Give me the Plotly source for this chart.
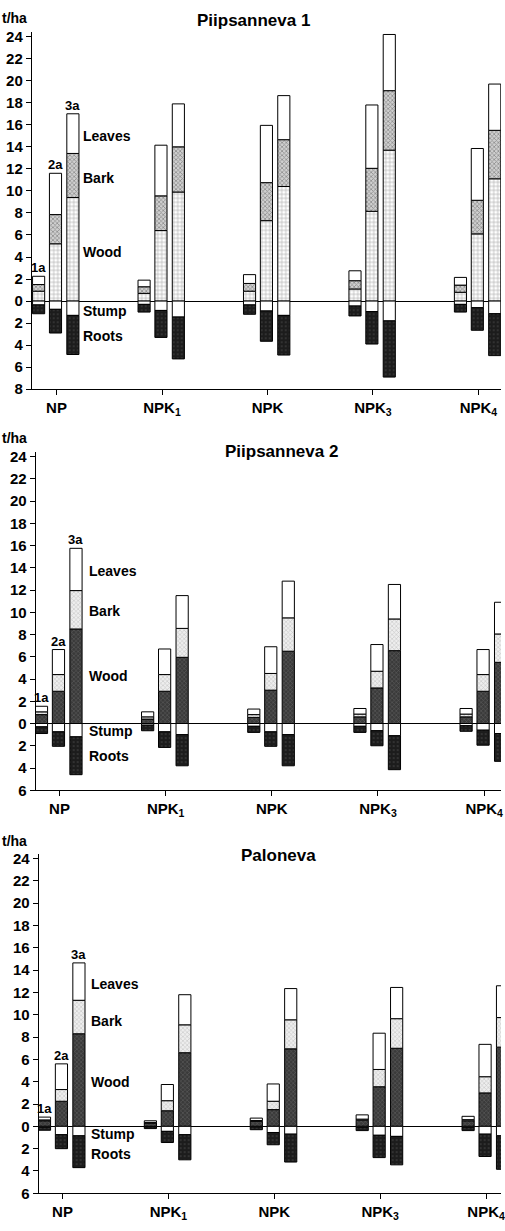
import plotly.graph_objects as go

# ---------------- data (t/ha) ----------------
TREATMENTS = ["NP", "NPK<sub>1</sub>", "NPK", "NPK<sub>3</sub>", "NPK<sub>4</sub>"]
AGES = ["1a", "2a", "3a"]
PANEL_TITLES = ["Piipsanneva 1", "Piipsanneva 2", "Paloneva"]

# rows: age 1a, 2a, 3a ; columns: NP, NPK1, NPK, NPK3, NPK4
P1_WOOD = [[0.9, 0.7, 0.9, 1.1, 0.8], [5.2, 6.4, 7.3, 8.15, 6.1], [9.4, 9.9, 10.4, 13.7, 11.1]]
P1_BARK = [[0.6, 0.6, 0.7, 0.75, 0.65], [2.65, 3.15, 3.45, 3.9, 3.05], [4.0, 4.1, 4.25, 5.4, 4.4]]
P1_LEAVES = [[0.75, 0.6, 0.8, 0.9, 0.7], [3.75, 4.6, 5.2, 5.75, 4.7], [3.6, 3.9, 4.0, 5.1, 4.2]]
P1_STUMP = [[0.35, 0.3, 0.35, 0.45, 0.3], [0.75, 0.85, 0.9, 0.95, 0.6], [1.3, 1.45, 1.3, 1.8, 1.15]]
P1_ROOTS = [[0.8, 0.7, 0.85, 0.9, 0.7], [2.15, 2.45, 2.75, 2.95, 2.05], [3.55, 3.8, 3.6, 5.1, 3.8]]

P2_WOOD = [[0.8, 0.4, 0.55, 0.6, 0.6], [2.9, 2.9, 3.0, 3.2, 2.9], [8.5, 5.95, 6.5, 6.55, 5.5]]
P2_BARK = [[0.25, 0.2, 0.25, 0.25, 0.25], [1.5, 1.5, 1.5, 1.5, 1.5], [3.45, 2.6, 3.0, 2.85, 2.55]]
P2_LEAVES = [[0.5, 0.45, 0.5, 0.5, 0.5], [2.25, 2.3, 2.4, 2.4, 2.25], [3.8, 2.95, 3.3, 3.1, 2.85]]
P2_STUMP = [[0.3, 0.15, 0.25, 0.25, 0.2], [0.75, 0.75, 0.75, 0.65, 0.6], [1.2, 1.0, 1.0, 1.1, 0.9]]
P2_ROOTS = [[0.6, 0.5, 0.55, 0.55, 0.5], [1.3, 1.4, 1.3, 1.35, 1.35], [3.4, 2.8, 2.8, 3.05, 2.5]]

P3_WOOD = [[0.5, 0.3, 0.45, 0.55, 0.5], [2.25, 1.4, 1.5, 3.55, 3.0], [8.3, 6.6, 6.95, 7.0, 7.1]]
P3_BARK = [[0.08, 0.05, 0.07, 0.1, 0.1], [1.05, 0.9, 0.75, 1.55, 1.45], [3.0, 2.5, 2.6, 2.65, 2.65]]
P3_LEAVES = [[0.25, 0.15, 0.22, 0.38, 0.3], [2.3, 1.45, 1.55, 3.25, 2.9], [3.35, 2.7, 2.8, 2.8, 2.85]]
P3_STUMP = [[0.08, 0.05, 0.07, 0.08, 0.08], [0.75, 0.45, 0.55, 0.8, 0.7], [0.85, 0.75, 0.7, 0.9, 0.85]]
P3_ROOTS = [[0.27, 0.15, 0.23, 0.3, 0.3], [1.25, 1.0, 1.1, 2.0, 2.0], [2.85, 2.25, 2.5, 2.55, 3.0]]

Y_TICKS_P1 = list(range(-8, 25, 2))
Y_TICKS_P23 = list(range(-6, 25, 2))

PANELS = [
    (P1_WOOD, P1_BARK, P1_LEAVES, P1_STUMP, P1_ROOTS),
    (P2_WOOD, P2_BARK, P2_LEAVES, P2_STUMP, P2_ROOTS),
    (P3_WOOD, P3_BARK, P3_LEAVES, P3_STUMP, P3_ROOTS),
]

# ---------------- layout geometry ----------------
W, H = 505, 1231
FONT = "Liberation Sans, Arial, Helvetica, sans-serif"
AGE_OFFSETS = [-0.17, -0.01, 0.155]
BAR_W = 0.115
YMAX = 24.4

# pixel geometry per panel: (left px, NP tick px, px per category, y=24 px, bottom px, ymin)
GEOM = [
    (32, 57, 106.3, 33, 389, -8),
    (36, 60, 107.0, 457, 794, -6),
    (39, 63, 106.75, 863, 1201, -6),
]
TITLE_POS = [(256, 17), (284, 452), (281, 860)]
TOP_LABEL_Y = [14, 438, 845]
# component label positions (x in category units, y in data units)
LABEL_POS = [
    (0.235, [15.0, 11.2, 4.5, -0.9, -3.15]),
    (0.26, [13.7, 10.1, 4.3, -0.7, -2.95]),
    (0.253, [12.8, 9.4, 4.0, -0.7, -2.5]),
]
LABEL_TEXT = ["Leaves", "Bark", "Wood", "Stump", "Roots"]


def styles(panel):
    if panel == 0:
        wood = dict(color="white", pattern=dict(shape="+", fgcolor="#555555", size=4, solidity=0.3))
        bark = dict(color="#cfcfcf", pattern=dict(shape="x", fgcolor="#4a4a4a", size=3, solidity=0.45))
    else:
        wood = dict(color="#3a3a3a", pattern=dict(shape="x", fgcolor="#8a8a8a", size=3, solidity=0.3))
        bark = dict(color="#eeeeee", pattern=dict(shape="x", fgcolor="#9a9a9a", size=3, solidity=0.35))
    leaves = dict(color="white")
    stump = dict(color="white")
    roots = dict(color="#1c1c1c", pattern=dict(shape=".", fgcolor="#555555", size=4, solidity=0.2))
    return [wood, bark, leaves, stump, roots]


fig = go.Figure()
layout = dict(
    width=W, height=H,
    margin=dict(l=0, r=0, t=0, b=0),
    paper_bgcolor="white", plot_bgcolor="white",
    barmode="relative", showlegend=False,
    font=dict(family=FONT, size=14, color="black", weight="bold"),
    annotations=[],
)

for p, comps in enumerate(PANELS):
    sfx = "" if p == 0 else str(p + 1)
    xa, ya = "x" + sfx, "y" + sfx
    left, np_px, cat_px, top24, bot, ymin = GEOM[p]
    px_per_unit = (bot - top24) / (24 - ymin)
    top = top24 - (YMAX - 24) * px_per_unit
    st = styles(p)
    for a in range(3):
        xs = [i + AGE_OFFSETS[a] for i in range(len(TREATMENTS))]
        for c in range(5):
            vals = comps[c][a]
            sign = 1 if c < 3 else -1
            m = dict(st[c])
            m["line"] = dict(color="black", width=1)
            fig.add_trace(go.Bar(
                x=xs, y=[sign * v for v in vals], width=BAR_W,
                marker=m, xaxis=xa, yaxis=ya, hoverinfo="skip",
            ))
        # age labels above the NP group
        top_val = comps[0][a][0] + comps[1][a][0] + comps[2][a][0]
        layout["annotations"].append(dict(
            x=AGE_OFFSETS[a], y=top_val, xref=xa, yref=ya, text=AGES[a],
            showarrow=False, xanchor="center", yanchor="bottom", yshift=-1,
            font=dict(family=FONT, size=13, weight="bold"),
        ))
    yt = Y_TICKS_P1 if p == 0 else Y_TICKS_P23
    layout["xaxis" + sfx] = dict(
        domain=[left / W, 1], anchor=ya,
        range=[-(np_px - left) / cat_px, (W - np_px) / cat_px],
        tickvals=list(range(len(TREATMENTS))), ticktext=TREATMENTS,
        showline=True, linecolor="black", linewidth=1,
        ticks="outside", ticklen=5, tickcolor="black",
        showgrid=False, zeroline=False, fixedrange=True,
        ticklabeloverflow="allow",
        tickfont=dict(family=FONT, size=15, weight="bold"),
    )
    layout["yaxis" + sfx] = dict(
        domain=[1 - bot / H, 1 - top / H], anchor=xa,
        range=[ymin, YMAX],
        tickvals=yt, ticktext=[str(abs(v)) for v in yt],
        showline=True, linecolor="black", linewidth=1,
        ticks="outside", ticklen=5, tickcolor="black",
        showgrid=False, zeroline=True, zerolinecolor="black", zerolinewidth=1,
        fixedrange=True,
        tickfont=dict(family=FONT, size=15, weight="bold"),
    )
    tx, ty = TITLE_POS[p]
    layout["annotations"].append(dict(
        x=tx / W, y=1 - ty / H, xref="paper", yref="paper", text=PANEL_TITLES[p],
        showarrow=False, xanchor="center", yanchor="middle",
        font=dict(family=FONT, size=17, weight="bold"),
    ))
    layout["annotations"].append(dict(
        x=0, y=1 - TOP_LABEL_Y[p] / H, xref="paper", yref="paper", text="t/ha",
        showarrow=False, xanchor="left", yanchor="middle",
        font=dict(family=FONT, size=14, weight="bold"),
    ))
    lx, lys = LABEL_POS[p]
    for txt, ly in zip(LABEL_TEXT, lys):
        layout["annotations"].append(dict(
            x=lx, y=ly, xref=xa, yref=ya, text=txt, showarrow=False,
            xanchor="left", yanchor="middle",
            font=dict(family=FONT, size=14, weight="bold"),
        ))

fig.update_layout(**layout)
fig.write_html("out.html")
